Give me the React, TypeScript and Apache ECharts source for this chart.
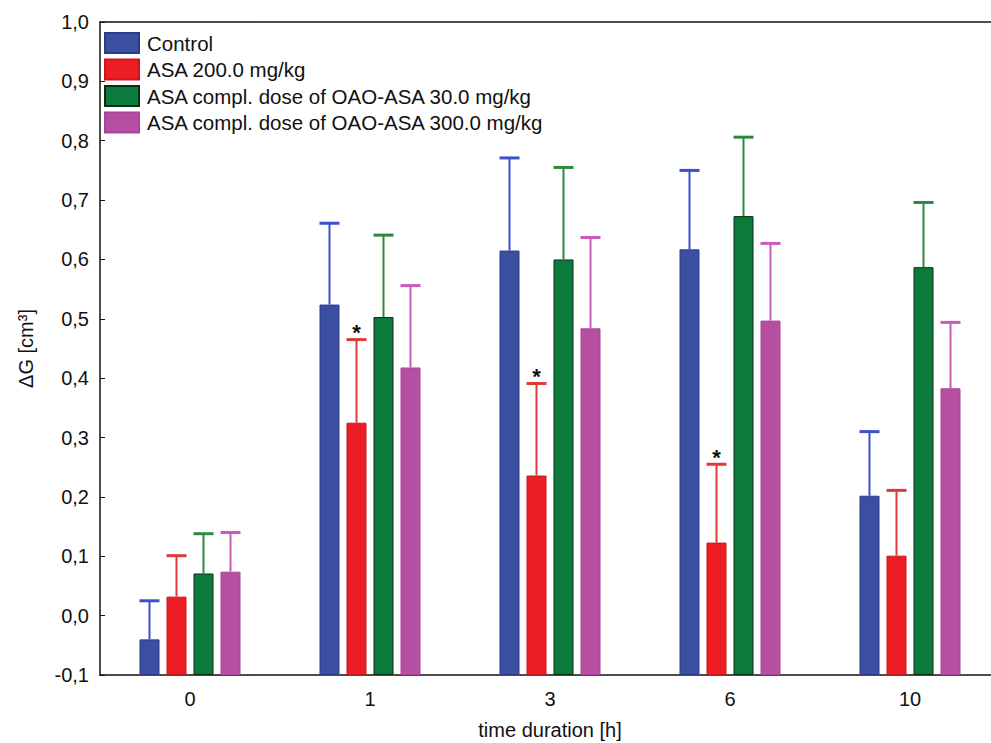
import React, { useEffect, useRef } from "react";
import * as echarts from "echarts";

const categories = ["0", "1", "3", "6", "10"];
const seriesNames = [
  "Control",
  "ASA 200.0 mg/kg",
  "ASA compl. dose of OAO-ASA 30.0 mg/kg",
  "ASA compl. dose of OAO-ASA 300.0 mg/kg",
];
const controlMean = [-0.04, 0.524, 0.615, 0.617, 0.202];
const controlUpper = [0.025, 0.661, 0.771, 0.75, 0.31];
const asa200Mean = [0.032, 0.325, 0.236, 0.123, 0.101];
const asa200Upper = [0.101, 0.465, 0.391, 0.255, 0.211];
const oao30Mean = [0.071, 0.503, 0.6, 0.673, 0.587];
const oao30Upper = [0.138, 0.641, 0.755, 0.806, 0.696];
const oao300Mean = [0.074, 0.418, 0.484, 0.497, 0.383];
const oao300Upper = [0.14, 0.556, 0.637, 0.627, 0.494];
const asa200Significant = [false, true, true, true, false];
const yTicks = { min: -0.1, max: 1.0, step: 0.1 };

const barColors = ["#3b4fa2", "#ec1d25", "#0b7b3b", "#b64ea2"];
const barBorders = ["#2c3b86", "#c8161d", "#0a2e14", "#a8449a"];
const errColors = ["#3c50c8", "#dd3b36", "#2b8a3e", "#c75bbd"];
const FONT = "'Liberation Sans', Arial, sans-serif";

const BAR_W = 20;
const PITCH = 27;

export default function App() {
  const ref = useRef<HTMLDivElement>(null);
  useEffect(() => {
    if (!ref.current) return;
    const chart = echarts.init(ref.current, null, { renderer: "svg" });
    const base = yTicks.min;
    const means = [controlMean, asa200Mean, oao30Mean, oao300Mean];
    const uppers = [controlUpper, asa200Upper, oao30Upper, oao300Upper];

    const barSeries = means.map((m, i) => ({
      name: seriesNames[i],
      type: "bar",
      xAxisIndex: 0,
      barWidth: BAR_W,
      barGap: "35%",
      itemStyle: {
        color: barColors[i],
        borderColor: barBorders[i],
        borderWidth: 1,
      },
      data: m.map((v) => +(v - base).toFixed(4)),
      z: 2,
    }));

    const errSeries = means.map((m, i) => ({
      name: "err" + i,
      type: "custom",
      xAxisIndex: 0,
      z: 3,
      data: m.map((v, k) => [k, v - base, uppers[i][k] - base, i === 1 && asa200Significant[k] ? 1 : 0]),
      encode: { x: 0, y: [1, 2] },
      renderItem: (params: any, api: any) => {
        const cat = api.value(0);
        const lo = api.coord([cat, api.value(1)]);
        const hi = api.coord([cat, api.value(2)]);
        const x = lo[0] + (i - 1.5) * PITCH;
        const children: any[] = [
          {
            type: "line",
            shape: { x1: x, y1: lo[1], x2: x, y2: hi[1] },
            style: { stroke: errColors[i], lineWidth: 2 },
          },
          {
            type: "line",
            shape: { x1: x - BAR_W / 2, y1: hi[1], x2: x + BAR_W / 2, y2: hi[1] },
            style: { stroke: errColors[i], lineWidth: 3 },
          },
        ];
        if (api.value(3) === 1) {
          children.push({
            type: "text",
            x: x,
            y: hi[1] + 4,
            style: {
              text: "*",
              fill: "#111",
              fontSize: 22,
              fontWeight: "bold",
              fontFamily: FONT,
              align: "center",
              verticalAlign: "bottom",
            },
          });
        }
        return { type: "group", children };
      },
    }));

    const fmt = (v: number) => (v + base).toFixed(1).replace(".", ",");

    chart.setOption({
      animation: false,
      backgroundColor: "#ffffff",
      textStyle: { fontFamily: FONT },
      grid: { left: 100, top: 22, width: 900, height: 653, outerBoundsMode: "none", containLabel: false },
      legend: {
        data: seriesNames,
        orient: "vertical",
        left: 104,
        top: 32,
        padding: 0,
        itemWidth: 34,
        itemHeight: 20,
        itemGap: 4.5,
        icon: "rect",
        textStyle: { fontSize: 20.5, color: "#111", fontFamily: FONT, padding: [0, 0, 0, 3] },
        selectedMode: false,
      },
      xAxis: [
        {
          type: "category",
          data: categories,
          position: "bottom",
          name: "time duration [h]",
          nameLocation: "middle",
          nameGap: 45,
          nameTextStyle: { fontSize: 20, color: "#111", fontFamily: FONT },
          axisLine: { lineStyle: { color: "#111", width: 1.5 } },
          axisTick: { inside: true, length: 5, alignWithLabel: true, lineStyle: { color: "#111" } },
          axisLabel: { fontSize: 20, color: "#111", margin: 14, fontFamily: FONT },
          splitLine: { show: false },
        },
        {
          type: "category",
          data: categories,
          position: "top",
          axisLine: { lineStyle: { color: "#111", width: 1.5 } },
          axisTick: { inside: true, length: 5, alignWithLabel: true, lineStyle: { color: "#111" } },
          axisLabel: { show: false },
          splitLine: { show: false },
        },
      ],
      yAxis: {
        type: "value",
        min: 0,
        max: +(yTicks.max - yTicks.min).toFixed(4),
        interval: yTicks.step,
        name: "ΔG [cm³]",
        nameLocation: "middle",
        nameGap: 64,
        nameTextStyle: { fontSize: 20, color: "#111", fontFamily: FONT },
        axisLine: { show: true, lineStyle: { color: "#111", width: 1.5 } },
        axisTick: { show: true, inside: true, length: 5, lineStyle: { color: "#111" } },
        axisLabel: { fontSize: 20, color: "#111", margin: 11, formatter: fmt, fontFamily: FONT },
        splitLine: { show: false },
      },
      series: [...barSeries, ...errSeries],
    });
    return () => chart.dispose();
  }, []);
  return (
    <div
      ref={ref}
      style={{ position: "fixed", left: 0, top: 0, width: 991, height: 743, background: "#fff" }}
    />
  );
}
